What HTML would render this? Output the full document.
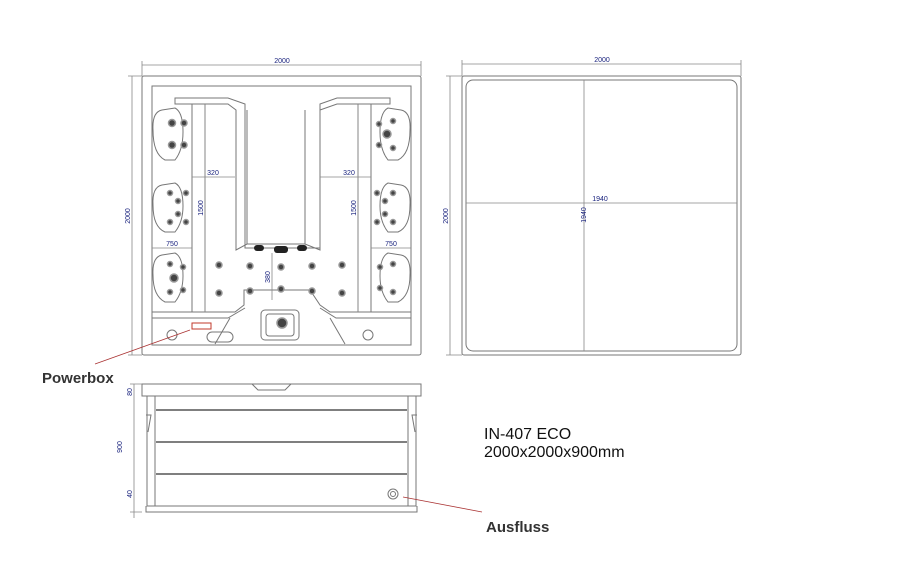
<!DOCTYPE html>
<html><head><style>body{margin:0;background:#fff}svg{display:block}</style></head><body>
<svg width="900" height="588" viewBox="0 0 900 588" xmlns="http://www.w3.org/2000/svg" font-family="Liberation Sans, sans-serif">
<g fill="none" stroke="#777" stroke-width="1">
<!-- top view -->
<rect x="142" y="76" width="279" height="279" rx="2"/>
<path d="M152 86 H411 V345 H152 Z"/>
<path d="M175 98 H228 L245 104 V248 H320 V104 L337 98 H390 V104 H337 L320 110 V250 L305 244 H247 L236 250 V110 L228 104 H175 Z"/>
<path d="M192 104 V312 M205 104 V312 M358 104 V312 M371 104 V312"/>
<path d="M247 110 V244 M305 110 V244"/>
<path d="M152 312 H235 L244 305 V290 H310 L320 305 L330 312 H411"/>
<path d="M152 318 H228 L245 308 M411 318 H336 L320 308"/>
<path d="M230 318 L215 344 M330 318 L345 344"/>
<rect x="261" y="310" width="38" height="30" rx="4"/>
<rect x="266" y="314" width="28" height="22" rx="3"/>
<rect x="207" y="332" width="26" height="10" rx="5"/>
<circle cx="172" cy="335" r="5"/><circle cx="368" cy="335" r="5"/>
<path d="M162 110 Q152 112 153 130 Q153 154 165 160 H175 Q183 150 183 132 Q183 112 175 108 Z"/>
<path d="M162 185 Q152 187 153 205 Q153 227 165 232 H175 Q183 222 183 206 Q183 187 175 183 Z"/>
<path d="M162 255 Q152 257 153 275 Q153 296 165 302 H175 Q183 292 183 276 Q183 257 175 253 Z"/>
<path d="M401 110 Q411 112 410 130 Q410 154 398 160 H388 Q380 150 380 132 Q380 112 388 108 Z"/>
<path d="M401 185 Q411 187 410 205 Q410 227 398 232 H388 Q380 222 380 206 Q380 187 388 183 Z"/>
<path d="M401 255 Q411 257 410 275 Q410 296 398 302 H388 Q380 292 380 276 Q380 257 388 253 Z"/>
<!-- side view -->
<rect x="142" y="384" width="279" height="12"/>
<rect x="147" y="396" width="269" height="110"/>
<path d="M155 396 V506 M408 396 V506 M146 506 V512 H417 V506"/>
<path d="M252 384 L258 390 H285 L291 384"/>
<path d="M146 415 L151 415 L148 432 M417 415 L412 415 L415 432"/>
<circle cx="393" cy="494" r="5"/><circle cx="393" cy="494" r="2.5"/>
<!-- right view -->
<rect x="462" y="76" width="279" height="279" rx="2"/>
<rect x="466" y="80" width="271" height="271" rx="7"/>
</g>
<g stroke="#555" stroke-width="1.5">
<line x1="156" y1="410" x2="407" y2="410"/><line x1="156" y1="442" x2="407" y2="442"/><line x1="156" y1="474" x2="407" y2="474"/>
</g>
<!-- jets -->
<g fill="#444" stroke="#999" stroke-width="1.5">
<circle cx="172" cy="123" r="3.5"/><circle cx="184" cy="123" r="3"/><circle cx="172" cy="145" r="3.5"/><circle cx="184" cy="145" r="3"/>
<circle cx="170" cy="193" r="2.5"/><circle cx="186" cy="193" r="2.5"/><circle cx="178" cy="201" r="2.5"/><circle cx="178" cy="214" r="2.5"/><circle cx="170" cy="222" r="2.5"/><circle cx="186" cy="222" r="2.5"/>
<circle cx="170" cy="264" r="2.5"/><circle cx="183" cy="267" r="2.5"/><circle cx="174" cy="278" r="4"/><circle cx="170" cy="292" r="2.5"/><circle cx="183" cy="290" r="2.5"/>
<circle cx="379" cy="124" r="2.5"/><circle cx="393" cy="121" r="2.5"/><circle cx="387" cy="134" r="4"/><circle cx="379" cy="145" r="2.5"/><circle cx="393" cy="148" r="2.5"/>
<circle cx="377" cy="193" r="2.5"/><circle cx="393" cy="193" r="2.5"/><circle cx="385" cy="201" r="2.5"/><circle cx="385" cy="214" r="2.5"/><circle cx="377" cy="222" r="2.5"/><circle cx="393" cy="222" r="2.5"/>
<circle cx="380" cy="267" r="2.5"/><circle cx="393" cy="264" r="2.5"/><circle cx="380" cy="288" r="2.5"/><circle cx="393" cy="292" r="2.5"/>
<circle cx="219" cy="265" r="3"/><circle cx="250" cy="266" r="3"/><circle cx="281" cy="267" r="3"/><circle cx="312" cy="266" r="3"/><circle cx="342" cy="265" r="3"/>
<circle cx="219" cy="293" r="3"/><circle cx="250" cy="291" r="3"/><circle cx="281" cy="289" r="3"/><circle cx="312" cy="291" r="3"/><circle cx="342" cy="293" r="3"/>
<circle cx="282" cy="323" r="5"/>
</g>
<g fill="#222"><rect x="254" y="245" width="10" height="6" rx="3"/><rect x="274" y="246" width="14" height="7" rx="3"/><rect x="297" y="245" width="10" height="6" rx="3"/></g>
<!-- dimension lines -->
<g stroke="#888" stroke-width="0.8" fill="none">
<path d="M142 65 H421 M142 61 V76 M421 61 V76"/>
<path d="M132 76 V355 M128 76 H142 M128 355 H142"/>
<path d="M462 64 H741 M462 60 V76 M741 60 V76"/>
<path d="M450 76 V355 M446 76 H462 M446 355 H462"/>
<path d="M466 203 H737 M584 80 V351"/>
<path d="M192 177 H235 M320 177 H371 M152 248 H192 M371 248 H411"/>
<path d="M205 104 V312 M358 104 V312 M272 253 V300"/>
<path d="M134 384 V512 M130 384 H142 M130 512 H142 M134 498 V518"/>
</g>
<g fill="#1a237e" font-size="7">
<text x="282" y="63" text-anchor="middle">2000</text>
<text x="602" y="62" text-anchor="middle">2000</text>
<text x="213" y="175" text-anchor="middle">320</text>
<text x="349" y="175" text-anchor="middle">320</text>
<text x="172" y="246" text-anchor="middle">750</text>
<text x="391" y="246" text-anchor="middle">750</text>
<text x="600" y="201" text-anchor="middle">1940</text>
<text transform="translate(130,216) rotate(-90)" text-anchor="middle">2000</text>
<text transform="translate(448,216) rotate(-90)" text-anchor="middle">2000</text>
<text transform="translate(203,208) rotate(-90)" text-anchor="middle">1500</text>
<text transform="translate(356,208) rotate(-90)" text-anchor="middle">1500</text>
<text transform="translate(270,277) rotate(-90)" text-anchor="middle">380</text>
<text transform="translate(586,215) rotate(-90)" text-anchor="middle">1940</text>
<text transform="translate(132,392) rotate(-90)" text-anchor="middle">80</text>
<text transform="translate(122,447) rotate(-90)" text-anchor="middle">900</text>
<text transform="translate(132,494) rotate(-90)" text-anchor="middle">40</text>
</g>
<rect x="192" y="323" width="19" height="6" fill="none" stroke="#c0392b" stroke-width="1"/>
<g stroke="#a33" stroke-width="0.8"><line x1="190" y1="330" x2="95" y2="364"/><line x1="403" y1="497" x2="482" y2="512"/></g>
<g fill="#333" font-weight="bold" font-size="15">
<text x="42" y="383">Powerbox</text>
<text x="486" y="532">Ausfluss</text>
</g>
<g fill="#111" font-size="16">
<text x="484" y="439">IN-407 ECO</text>
<text x="484" y="457">2000x2000x900mm</text>
</g>
</svg>
</body></html>
